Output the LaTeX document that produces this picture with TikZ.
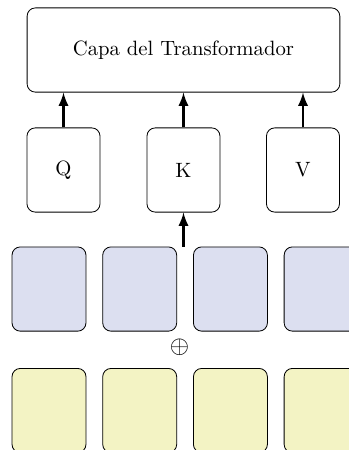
\documentclass[tikz,border=0pt]{standalone}
\usepackage{amsmath}
\usepackage{tikz}
\usetikzlibrary{positioning}

\definecolor{embblue}{RGB}{220,223,240}
\definecolor{posyellow}{RGB}{243,243,196}

\begin{document}
\begin{tikzpicture}[
            caja/.style={draw, rounded corners=4pt, minimum width=1.24cm,
                minimum height=1.43cm, inner sep=0pt},
            emb/.style={caja, fill=embblue, minimum width=1.256cm},
            posic/.style={caja, fill=posyellow, minimum width=1.256cm},
            flecha/.style={-latex, very thick},
            node distance=0.27cm]
            \useasboundingbox (0,0) rectangle (5.925,-7.64);

            \node[caja, minimum width=5.31cm] (capa) at (3.115,-0.849) {Capa del Transformador};

            \node[caja] (q) at (1.078,-2.886) {Q};
            \node[caja] (k) at (3.115,-2.886) {K};
            \node[caja] (v) at (5.144,-2.886) {V};

            % fila de embeddings
            \node[emb] (e1) at (0.832,-4.907) {};
            \node[emb, right=of e1] (e2) {};
            \node[emb, right=of e2] (e3) {};
            \node[emb, right=of e3] (e4) {};

            \node[font=\large] (suma) at (3.05,-5.89) {$\oplus$};

            % fila de posiciones
            \node[posic] (p1) at (0.832,-6.97) {};
            \node[posic, right=of p1] (p2) {};
            \node[posic, right=of p2] (p3) {};
            \node[posic, right=of p3] (p4) {};

            \coordinate (entrada) at (3.115,-4.19);

            \draw[flecha] (q) -- (q |- capa.south);
            \draw[flecha] (k) -- (k |- capa.south);
            \draw[flecha] (v) -- (v |- capa.south);
            \draw[flecha] (entrada) -- (k);

        \end{tikzpicture}
\end{document}
